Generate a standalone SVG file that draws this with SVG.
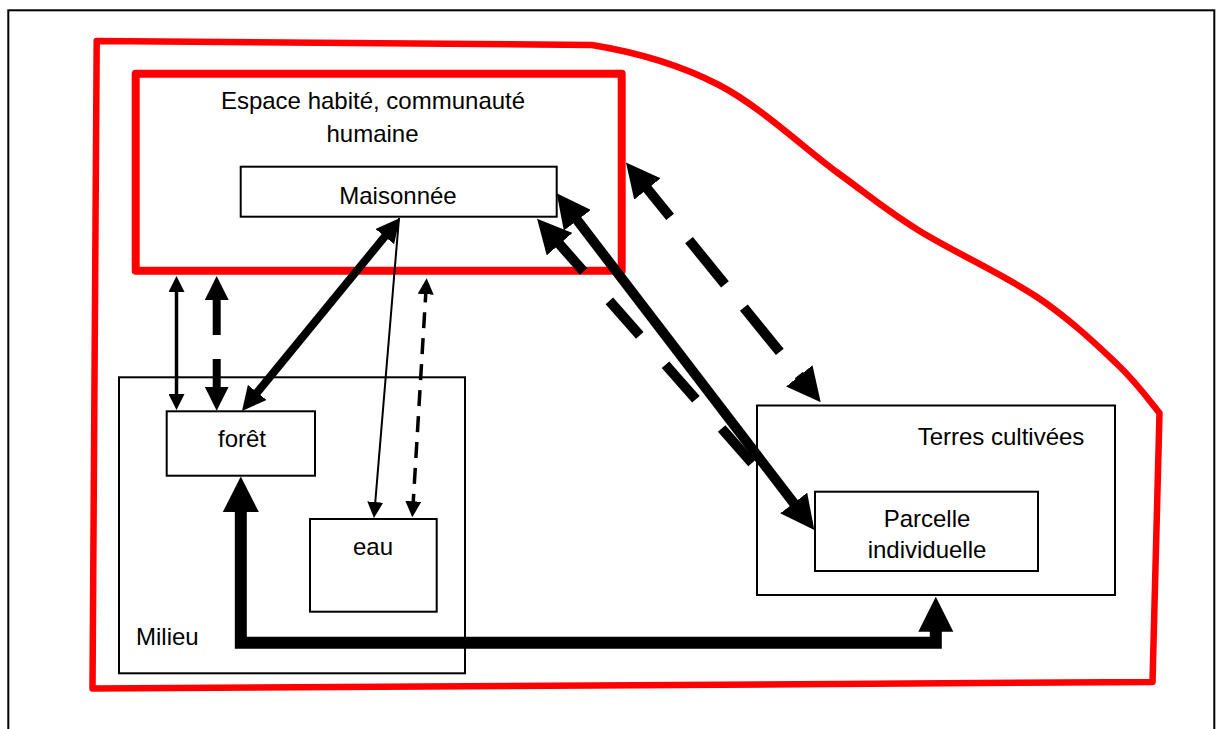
<svg xmlns="http://www.w3.org/2000/svg" width="1217" height="729" viewBox="0 0 1217 729">
<style>
.box{fill:#fff;stroke:#000;stroke-width:2}
.red{fill:none;stroke:#f00;stroke-linejoin:round}
text{font-family:"Liberation Sans",Arial,sans-serif;font-size:24px;fill:#000}
.c{text-anchor:middle}
.ln{fill:none;stroke:#000;stroke-linecap:butt}
</style>
<defs>
<marker id="mS" markerUnits="userSpaceOnUse" markerWidth="16" markerHeight="16" refX="8" refY="8" orient="auto-start-reverse"><path d="M0,0 L16,8 L0,16 Z" fill="#000"/></marker>
<marker id="mM" markerUnits="userSpaceOnUse" markerWidth="24" markerHeight="24" refX="12" refY="12" orient="auto-start-reverse"><path d="M0,0 L24,12 L0,24 Z" fill="#000"/></marker>
<marker id="mL" markerUnits="userSpaceOnUse" markerWidth="34" markerHeight="34" refX="17" refY="17" orient="auto-start-reverse"><path d="M0,0 L34,17 L0,34 Z" fill="#000"/></marker>
</defs>
<rect x="8.3" y="10.3" width="1206" height="740" fill="#fff" stroke="#000" stroke-width="2"/>
<g id="territoire">
<path class="red" stroke-width="6.5" d="M96.7,41 L592,45 C633.5,51.8 678,63.7 719,85 C760,106.3 804.8,148.8 838,173 C871.2,197.2 884.8,209.3 918,230 C951.2,250.7 1004,274.8 1037,297 C1070,319.2 1095.5,343.7 1116,363 C1136.5,382.3 1152.7,404.7 1159.5,413 L1152.5,682 L92.5,688.5 Z"/>
</g>
<g id="espace-habite">
<rect class="red" stroke-width="8" x="135.7" y="73.7" width="486" height="197"/>
<text class="c" x="373" y="109">Espace habité, communauté</text>
<text class="c" x="372.5" y="142">humaine</text>
</g>
<g id="milieu">
<rect class="box" x="119" y="377.3" width="346" height="296"/>
<text x="136" y="645">Milieu</text>
</g>
<g id="terres-cultivees">
<rect class="box" x="757" y="405.5" width="358" height="189.5"/>
<text class="c" x="1001" y="445">Terres cultivées</text>
</g>
<g id="maisonnee">
<rect class="box" x="240.7" y="166.7" width="316" height="50"/>
<text class="c" x="398" y="204">Maisonnée</text>
</g>
<g id="foret">
<rect class="box" x="166.7" y="411.3" width="148.3" height="64.4"/>
<text class="c" x="242" y="447">forêt</text>
</g>
<g id="eau">
<rect class="box" x="310" y="519" width="126.7" height="92.7"/>
<text class="c" x="373" y="555">eau</text>
</g>
<g id="parcelle">
<rect class="box" x="815" y="491.7" width="223" height="79.3"/>
<text class="c" x="927" y="527">Parcelle</text>
<text class="c" x="927" y="558">individuelle</text>
</g>
<g id="connectors">
<line class="ln" x1="176.5" y1="284" x2="176.5" y2="402" stroke-width="3.5" marker-start="url(#mS)" marker-end="url(#mS)"/>
<line class="ln" x1="216.7" y1="288" x2="216.7" y2="398.7" stroke-width="8" stroke-dasharray="47 24" marker-start="url(#mM)" marker-end="url(#mM)"/>
<line class="ln" x1="249.6" y1="401.7" x2="392.4" y2="227.3" stroke-width="8" marker-start="url(#mM)" marker-end="url(#mM)"/>
<line class="ln" x1="399" y1="218" x2="374.6" y2="510" stroke-width="2" marker-end="url(#mS)"/>
<line class="ln" x1="426.2" y1="286.3" x2="412.8" y2="509.3" stroke-width="3.5" stroke-dasharray="16 10" marker-start="url(#mS)" marker-end="url(#mS)"/>
<line class="ln" x1="567" y1="206.8" x2="804" y2="516.5" stroke-width="10" marker-start="url(#mL)" marker-end="url(#mL)"/>
<line class="ln" x1="548.3" y1="231.4" x2="752" y2="463" stroke-width="10" stroke-dasharray="46 39" stroke-dashoffset="77.5" marker-start="url(#mL)"/>
<line class="ln" x1="636.7" y1="175.7" x2="810" y2="389.1" stroke-width="10" stroke-dasharray="57 30" stroke-dashoffset="4" marker-start="url(#mL)" marker-end="url(#mL)"/>
<polyline class="ln" points="240.8,510 240.8,642.8 935.8,642.8 935.8,628" stroke-width="12" stroke-linejoin="miter"/>
<polygon points="240.8,476.5 222.8,512 258.8,512" fill="#000"/>
<polygon points="935.8,596.7 918.3,631.7 953.3,631.7" fill="#000"/>
</g>
</svg>
